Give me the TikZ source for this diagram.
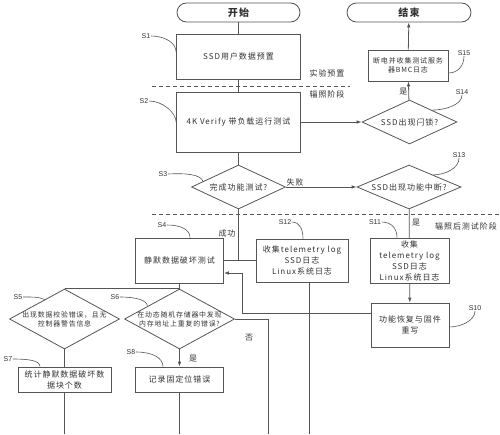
\documentclass[tikz,border=0pt]{standalone}
\usepackage{fontspec}
\setmainfont{Noto Sans CJK SC}[LetterSpace=12]
\newfontfamily\labfont{Liberation Sans}
\usetikzlibrary{arrows.meta,shapes.geometric,calc}
\definecolor{lc}{RGB}{85,85,85}
\definecolor{tc}{RGB}{50,50,50}
\tikzset{
  ln/.style={draw=lc, line width=0.8pt},
  arr/.style={-{Latex[length=5pt,width=3.6pt]}},
  box/.style={ln, rectangle, inner sep=0pt, align=center, text=tc, font=\fontsize{8}{11}\selectfont},
  sbox/.style={box, font=\fontsize{7}{8.6}\selectfont},
  term/.style={ln, rectangle, rounded corners=9.5pt, inner sep=0pt, text=tc, font=\bfseries\fontsize{10}{12}\selectfont},
  dia/.style={ln, diamond, inner sep=0pt},
  dtext/.style={align=center, text=tc, inner sep=0pt, font=\fontsize{8}{11}\selectfont},
  sdtext/.style={align=center, text=tc, inner sep=0pt, font=\fontsize{6.9}{9}\selectfont},
  tag/.style={text=tc, inner sep=1pt, font=\fontsize{8}{10}\selectfont},
  slab/.style={text=tc, inner sep=0.5pt, font=\labfont\fontsize{7}{8}\selectfont},
  lead/.style={draw=lc, line width=0.6pt},
  phase/.style={draw=lc, line width=0.7pt, dash pattern=on 4pt off 3pt}
}
\begin{document}
\begin{tikzpicture}[x=1pt,y=-1pt]
\useasboundingbox (0,0) rectangle (500,434);
% terminals
\node[term, minimum width=123pt, minimum height=19pt] (st) at (238.5,12.5) {开始};
\node[term, minimum width=124pt, minimum height=19pt] (en) at (409,12.5) {结束};
% boxes
\node[box, minimum width=124pt, minimum height=45pt] (s1) at (238.5,56.5) {SSD用户数据预置};
\node[box, minimum width=124pt, minimum height=60pt] (s2) at (238.5,122) {4K Verify 带负载运行测试};
\node[sbox, minimum width=80pt, minimum height=31pt] (s15) at (408,65.5) {断电并收集测试服务\\器BMC日志};
\node[box, minimum width=88pt, minimum height=45pt] (s4) at (179.5,260.5) {静默数据破坏测试};
\node[box, minimum width=92pt, minimum height=43pt] (s12) at (302,260.5) {收集telemetry log\\SSD日志\\Linux系统日志};
\node[box, minimum width=79pt, minimum height=45pt] (s11) at (409.5,260.5) {收集\\telemetry log\\SSD日志\\Linux系统日志};
\node[box, minimum width=78pt, minimum height=44pt] (s10) at (410,325) {功能恢复与固件\\重写};
\node[box, minimum width=93pt, minimum height=25pt] (s7) at (64.5,379.5) {统计静默数据破坏数\\据块个数};
\node[box, minimum width=88pt, minimum height=25pt] (s8) at (179.5,379.5) {记录固定位错误};
% diamonds
\node[dia, minimum width=95pt, minimum height=44pt] (s14) at (409.5,122) {};
\node[dtext] (t14) at (s14.center) {SSD出现闩锁?};
\node[dia, minimum width=94pt, minimum height=44pt] (s3) at (238.5,187) {};
\node[dtext] (t3) at (s3.center) {完成功能测试?};
\node[dia, minimum width=104pt, minimum height=44pt] (s13) at (409,187) {};
\node[dtext] (t13) at (s13.center) {SSD出现功能中断?};
\node[dia, minimum width=110pt, minimum height=60pt] (s5) at (64.5,319) {};
\node[sdtext] (t5) at (s5.center) {出现数据校验错误，且无\\控制器警告信息};
\node[dia, minimum width=110pt, minimum height=60pt] (s6) at (179.5,319) {};
\node[sdtext] (t6) at (s6.center) {在动态随机存储器中发现\\内存地址上重复的错误?};
% phase lines and texts
\coordinate (d1a) at (152,86);
\coordinate (d1b) at (350,86);
\coordinate (d2a) at (152,214);
\coordinate (d2b) at (500,214);
\draw[phase] (d1a) -- (d1b);
\draw[phase] (d2a) -- (d2b);
\node[tag] (p1) at (327,73) {实验预置};
\node[tag] (p2) at (327,94) {辐照阶段};
\node[tag] (p3) at (466,226) {辐照后测试阶段};
% connectors
\draw[ln] (st) -- (s1);
\draw[ln] (s1) -- (s2);
\draw[ln] (s2) -- (s3);
\draw[ln,arr] (s2) -- (s14);
\draw[ln,arr] (s14) -- node[tag, left, pos=0.45] (y14) {是} (s15);
\draw[ln,arr] (s15) -- (en);
\draw[ln,arr] (s3) -- (s13);
\node[tag] (fail) at (295,182) {失败};
\draw[ln] (s4) -- (s12);
\coordinate (j0) at (s3.south |- s4.east);
\draw[ln] (s3) -- (j0);
\node[tag] (ok) at (227,233) {成功};
\draw[ln] (s13) -- (s11);
\node[tag] (y13) at (416,223) {是};
\draw[ln,arr] (s11) -- (s10);
\coordinate (j1) at (242,313);
\coordinate (j2) at (223,273);
\draw[ln,arr] (s10.west |- j1) -- (j1) |- (s4.east |- j2);
\coordinate (b12) at (309,434);
\draw[ln] (b12 |- s12.south) -- (b12);
\draw[ln] (s4) -- (s6);
\draw[ln] (s6.north) -- (s5.north);
\draw[ln] (s5) -- (s7);
\draw[ln,arr] (s6) -- (s8);
\node[tag] (y6) at (193,359) {是};
\coordinate (b6) at (268,434);
\draw[ln] (s6.east) -| (b6);
\node[tag] (n6) at (249,338) {否};
\coordinate (b7) at (64.5,434);
\coordinate (b8) at (179.5,434);
\draw[ln] (s7) -- (b7);
\draw[ln] (s8) -- (b8);
% step labels
\node[slab] (l1) at (146,36) {S1};
\node[slab] (l2) at (144,101) {S2};
\node[slab] (l3) at (163,174) {S3};
\node[slab] (l4) at (162,225) {S4};
\node[slab] (l5) at (18,297) {S5};
\node[slab] (l6) at (115,297) {S6};
\node[slab] (l7) at (8,359) {S7};
\node[slab] (l8) at (131,352) {S8};
\node[slab] (l10) at (475,308) {S10};
\node[slab] (l11) at (375,222) {S11};
\node[slab] (l12) at (285,222) {S12};
\node[slab] (l13) at (459,155) {S13};
\node[slab] (l14) at (462,92) {S14};
\node[slab] (l15) at (464,53) {S15};
\draw[lead] (l1.east) .. controls +(14,0) and +(0,-9) .. (s1.west |- 0,52);
\draw[lead] (l2.east) .. controls +(14,0) and +(0,-9) .. (s2.west |- 0,122);
\draw[lead] (l3.east) .. controls +(18,-1) and +(-2,-7) .. ($(s3.west)!0.25!(s3.north)$);
\draw[lead] (l4.east) .. controls +(14,0) and +(0,-8) .. (190,0 |- s4.north);
\draw[lead] (l5.east) .. controls +(8,0) and +(-6,-3) .. ($(s5.west)!0.64!(s5.north)$);
\draw[lead] (l6.east) .. controls +(16,0) and +(0,-6) .. ($(s6.west)!0.42!(s6.north)$);
\draw[lead] (l7.east) .. controls +(16,0) and +(0,-6) .. (40,0 |- s7.north);
\draw[lead] (l8.east) .. controls +(16,0) and +(0,-9) .. (163,0 |- s8.north);
\draw[lead] (l11.east) .. controls +(10,0) and +(0,-9) .. (397,0 |- s11.north);
\draw[lead] (l12.east) .. controls +(8,0) and +(0,-9) .. (303,0 |- s12.north);
\draw[lead] (l13.south) .. controls +(0,10) and +(12,0) .. ($(s13.north)!0.46!(s13.east)$);
\draw[lead] (l14.south) .. controls +(0,10) and +(12,0) .. ($(s14.north)!0.47!(s14.east)$);
\draw[lead] (l15.south) .. controls +(0,9) and +(10,0) .. (s15.east |- 0,73);
\draw[lead] (l10.south) .. controls +(0,9) and +(12,0) .. (s10.east |- 0,327);
\end{tikzpicture}
\end{document}
